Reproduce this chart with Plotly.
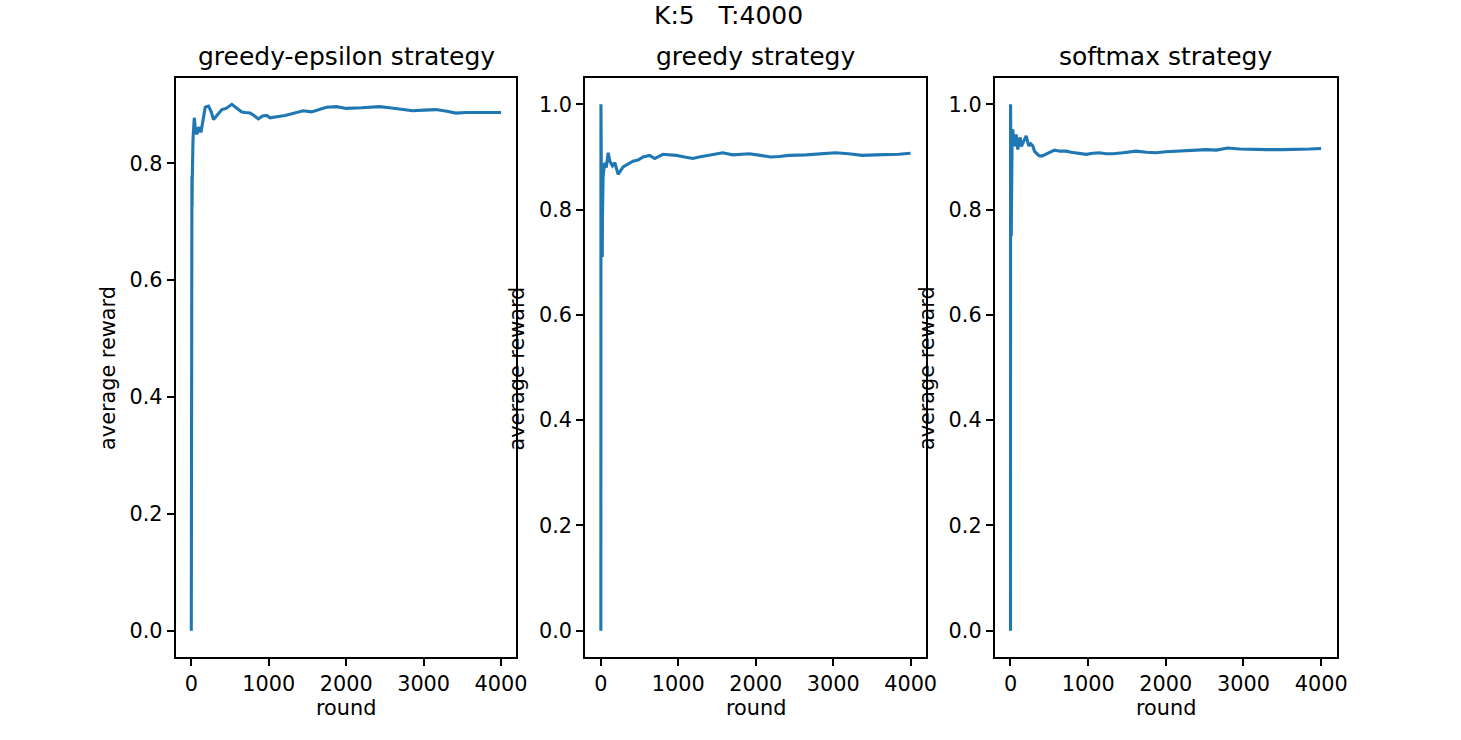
import plotly.graph_objects as go

# ---------------- data ----------------
suptitle = "K:5\u00a0\u00a0\u00a0T:4000"
panel_titles = ["greedy-epsilon strategy", "greedy strategy", "softmax strategy"]
x_label = "round"
y_label = "average reward"
x_ticks = [0, 1000, 2000, 3000, 4000]

eps_rounds = [0, 1, 2, 3, 4, 5, 6, 7, 8, 9, 10, 12, 14, 17, 22, 30, 39, 50, 60, 73,
              95, 125, 150, 180, 223, 255, 287, 330, 395, 450, 523, 580, 652, 700,
              759, 810, 866, 920, 974, 1016, 1080, 1145, 1210, 1273, 1360, 1444,
              1552, 1650, 1745, 1874, 2003, 2200, 2431, 2560, 2688, 2859, 3000,
              3160, 3300, 3417, 3550, 3717, 3850, 3999]
eps_values = [0.0, 0.5, 0.667, 0.5, 0.6, 0.667, 0.714, 0.75, 0.778, 0.7, 0.727, 0.769,
              0.8, 0.78, 0.841, 0.86, 0.878, 0.862, 0.852, 0.85,
              0.862, 0.853, 0.874, 0.896, 0.898, 0.889, 0.875, 0.882, 0.892, 0.894,
              0.901, 0.895, 0.888, 0.887, 0.886, 0.882, 0.876, 0.881, 0.882, 0.878,
              0.879, 0.880, 0.882, 0.884, 0.887, 0.890, 0.888, 0.892, 0.896, 0.897,
              0.894, 0.895, 0.897, 0.895, 0.893, 0.890, 0.891, 0.892, 0.889, 0.886,
              0.887, 0.887, 0.888, 0.887]

grd_rounds = [0, 1, 2, 3, 4, 5, 6, 8, 10, 12, 15, 18, 20, 22, 28, 35, 51, 70, 94,
              116, 150, 180, 223, 287, 350, 415, 480, 544, 630, 695, 801, 890, 974,
              1080, 1187, 1270, 1359, 1460, 1573, 1702, 1800, 1916, 2060, 2195, 2300,
              2431, 2650, 2859, 3031, 3200, 3374, 3550, 3717, 3850, 3999]
grd_values = [0.0, 1.0, 0.9, 0.875, 0.85, 0.82, 0.8, 0.85, 0.78, 0.75, 0.73, 0.71,
              0.78, 0.844, 0.86, 0.872, 0.889, 0.88, 0.908, 0.892, 0.883, 0.889,
              0.867, 0.881, 0.886, 0.892, 0.894, 0.900, 0.903, 0.897, 0.905, 0.904,
              0.903, 0.900, 0.897, 0.900, 0.902, 0.905, 0.908, 0.904, 0.905, 0.906,
              0.903, 0.900, 0.901, 0.903, 0.904, 0.907, 0.908, 0.906, 0.903, 0.904,
              0.904, 0.905, 0.907]

smx_rounds = [0, 1, 2, 3, 4, 5, 6, 8, 10, 12, 14, 16, 19, 22, 30, 40, 51, 62, 73,
              94, 110, 125, 140, 158, 180, 202, 235, 260, 287, 309, 340, 373, 410,
              459, 510, 566, 640, 716, 780, 845, 910, 974, 1060, 1145, 1230, 1316,
              1450, 1617, 1750, 1874, 2000, 2174, 2350, 2517, 2650, 2795, 2950,
              3117, 3300, 3502, 3700, 3850, 3999]
smx_values = [0.0, 1.0, 0.9, 0.95, 0.85, 0.8, 0.72, 0.667, 0.75, 0.8, 0.86, 0.9,
              0.93, 0.95, 0.952, 0.925, 0.933, 0.92, 0.943, 0.914, 0.93, 0.937,
              0.92, 0.927, 0.935, 0.940, 0.921, 0.925, 0.921, 0.911, 0.906, 0.902,
              0.902, 0.905, 0.909, 0.913, 0.911, 0.911, 0.909, 0.908, 0.907, 0.905,
              0.907, 0.908, 0.906, 0.906, 0.908, 0.911, 0.909, 0.908, 0.910, 0.911,
              0.912, 0.914, 0.913, 0.917, 0.915, 0.914, 0.914, 0.914, 0.914, 0.915,
              0.916]

series = [(eps_rounds, eps_values), (grd_rounds, grd_values), (smx_rounds, smx_values)]

# ---------------- layout geometry ----------------
W, H = 1461, 740
XS = 1 / 0.9935          # horizontal correction observed between spec and capture
panel_px = [(176, 517), (586, 927), (996, 1338)]
top_px, bottom_px = 78, 657
ydom = [1 - bottom_px / H, 1 - top_px / H]

FONT = "DejaVu Sans"
LINE = "#1f77b4"
TICK_SIZE = 20.8
TITLE_SIZE = 25

fig = go.Figure()
annotations = []

for i, ((xs, ys), (l, r)) in enumerate(zip(series, panel_px)):
    n = i + 1
    xa = "x" if n == 1 else f"x{n}"
    ya = "y" if n == 1 else f"y{n}"
    fig.add_trace(go.Scatter(x=xs, y=ys, mode="lines",
                             line=dict(color=LINE, width=3.1),
                             xaxis=xa, yaxis=ya, showlegend=False,
                             hoverinfo="x+y"))
    xmin, xmax = min(xs), max(xs)
    xpad = 0.05 * (xmax - xmin)
    ymin, ymax = min(ys), max(ys)
    ypad = 0.05 * (ymax - ymin)
    yticks = [v / 10 for v in range(0, 11, 2) if v / 10 <= ymax + 1e-9]
    axis_common = dict(showline=True, linecolor="black", linewidth=1.67, mirror=True,
                       showgrid=False, zeroline=False, ticks="outside", ticklen=7.3,
                       tickwidth=1.67, tickcolor="black",
                       tickfont=dict(family=FONT, size=TICK_SIZE, color="black"))
    xkey = "xaxis" if n == 1 else f"xaxis{n}"
    ykey = "yaxis" if n == 1 else f"yaxis{n}"
    fig.update_layout(**{
        xkey: dict(domain=[l * XS / W, r * XS / W], anchor=ya,
                   range=[xmin - xpad, xmax + xpad],
                   tickvals=x_ticks, ticktext=[str(t) for t in x_ticks],
                   **axis_common),
        ykey: dict(domain=ydom, anchor=xa,
                   range=[ymin - ypad, ymax + ypad],
                   tickvals=yticks, ticktext=[f"{t:.1f}" for t in yticks],
                   **axis_common),
    })
    cx = (l + r) / 2 * XS / W
    annotations.append(dict(text=panel_titles[i], x=cx, y=1 - 57 / H,
                            xref="paper", yref="paper", xanchor="center",
                            yanchor="middle", showarrow=False,
                            font=dict(family=FONT, size=TITLE_SIZE, color="black")))
    annotations.append(dict(text=x_label, x=cx, y=1 - 708 / H,
                            xref="paper", yref="paper", xanchor="center",
                            yanchor="middle", showarrow=False,
                            font=dict(family=FONT, size=TICK_SIZE, color="black")))
    annotations.append(dict(text=y_label, x=(l - 68) * XS / W, y=1 - 368 / H,
                            xref="paper", yref="paper", xanchor="center",
                            yanchor="middle", textangle=-90, showarrow=False,
                            font=dict(family=FONT, size=TICK_SIZE, color="black")))

annotations.append(dict(text=suptitle, x=729.5 * XS / W, y=1 - 15 / H,
                        xref="paper", yref="paper", xanchor="center",
                        yanchor="middle", showarrow=False,
                        font=dict(family=FONT, size=TITLE_SIZE, color="black")))

fig.update_layout(width=W, height=H, margin=dict(l=0, r=0, t=0, b=0),
                  paper_bgcolor="white", plot_bgcolor="white",
                  annotations=annotations,
                  font=dict(family=FONT, color="black"))

fig.write_html("out.html",
               config={"displayModeBar": False},
               post_script="document.body.style.margin='0';"
                           "document.body.style.overflow='hidden';")
